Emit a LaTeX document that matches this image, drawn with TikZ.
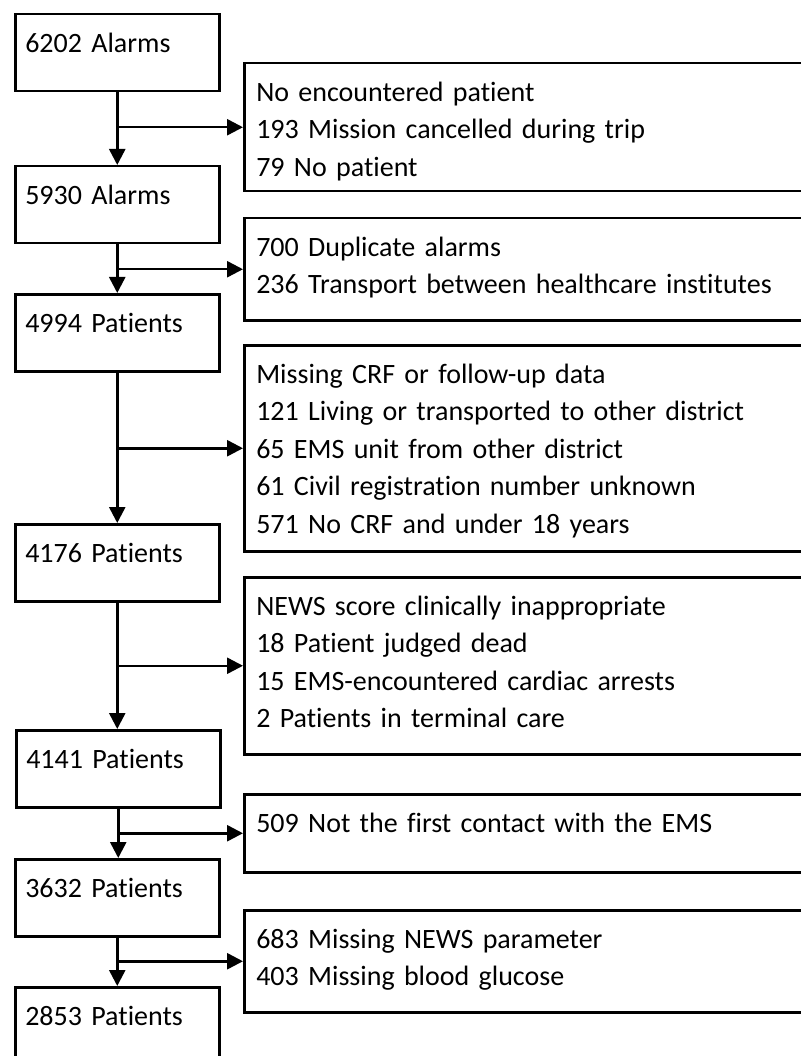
\documentclass[tikz,border=0pt]{standalone}
\usepackage{fontspec}
\setmainfont{Carlito}[Ligatures=NoCommon]
\usetikzlibrary{arrows.meta}
\begin{document}
\begin{tikzpicture}[x=1pt,y=-1pt,line width=2.5pt,
    stage/.style={draw,anchor=north west,minimum width=204pt,text width=184pt,
      align=left,inner xsep=10pt,inner ysep=0pt,text height=38pt,text depth=39pt,
      font=\fontsize{28}{37.5}\selectfont},
    excl/.style={stage,minimum width=600pt,text width=576pt,inner xsep=12pt,text depth=#1},
    flow/.style={-{Triangle[length=16pt,width=16pt]}}]
                    \useasboundingbox (0,0) rectangle (800,1056);
                    % left column, counts after each step
                    \node[stage] (s1) at (14,13) {6202 Alarms};
                    \node[stage] (s2) at (14,165) {5930 Alarms};
                    \node[stage] (s3) at (14,293) {4994 Patients};
                    \node[stage] (s4) at (14,523) {4176 Patients};
                    \node[stage] (s5) at (15,729) {4141 Patients};
                    \node[stage] (s6) at (14,858) {3632 Patients};
                    \node[stage] (s7) at (14,986) {2853 Patients};
                    % right column, exclusions
                    \node[excl=90pt] (x1) at (243,62) {No encountered patient\\193 Mission cancelled during trip\\79 No patient};
                    \node[excl=64pt] (x2) at (243,217) {700 Duplicate alarms\\236 Transport between healthcare institutes};
                    \node[excl=168pt] (x3) at (243,344) {Missing CRF or follow-up data\\121 Living or transported to other district\\65 EMS unit from other district\\61 Civil registration number unknown\\571 No CRF and under 18 years};
                    \node[excl=139pt] (x4) at (243,576) {NEWS score clinically inappropriate\\18 Patient judged dead\\15 EMS-encountered cardiac arrests\\2 Patients in terminal care};
                    \node[excl=40pt] (x5) at (243,793) {509 Not the first contact with the EMS};
                    \node[excl=64pt] (x6) at (243,909) {683 Missing NEWS parameter\\403 Missing blood glucose};
                    \draw[flow] (s1) -- (s2);
                    \draw[flow] (s2) -- (s3);
                    \draw[flow] (s3) -- (s4);
                    \draw[flow] (s4.south) -- (s4.south |- s5.north);
                    \draw[flow] (s5.south) -- (s5.south |- s6.north);
                    \draw[flow] (s6) -- (s7);
                    % |- takes x of the stem and y of the box
                    \draw[flow] (s1.south |- x1.west) -- (x1.west);
                    \draw[flow] (s2.south |- x2.west) -- (x2.west);
                    \draw[flow] (s3.south |- x3.west) -- (x3.west);
                    \draw[flow] (s4.south |- x4.west) -- (x4.west);
                    \draw[flow] (s5.south |- x5.west) -- (x5.west);
                    \draw[flow] (s6.south |- x6.west) -- (x6.west);
\end{tikzpicture}
\end{document}
